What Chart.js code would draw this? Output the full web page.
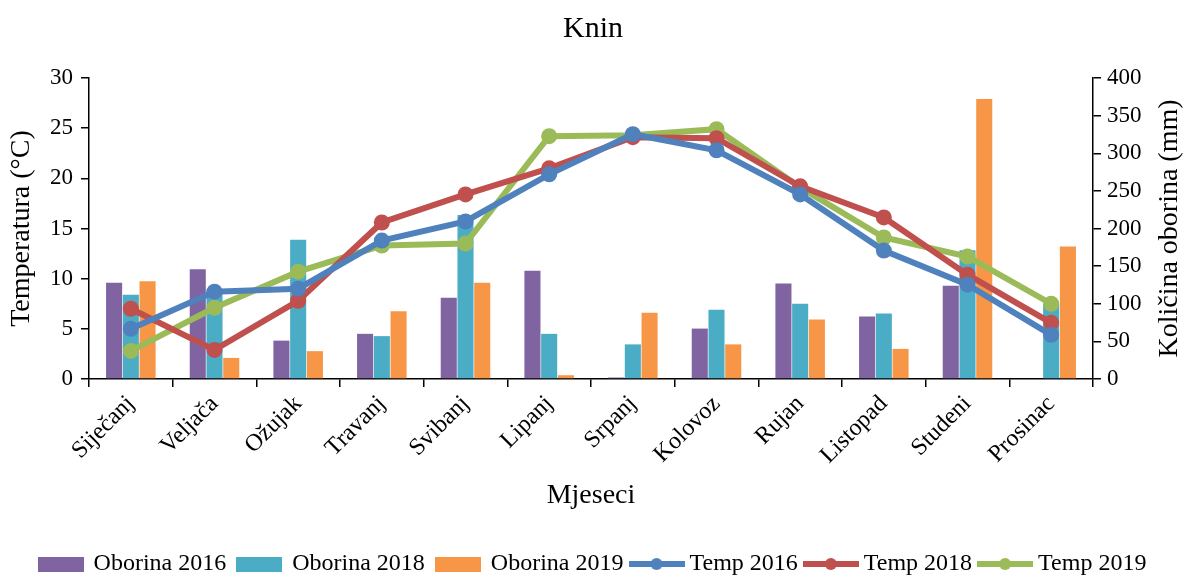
<!DOCTYPE html>
<html>
<head>
<meta charset="utf-8">
<script src="https://cdn.jsdelivr.net/npm/chart.js@4.4.1/dist/chart.umd.min.js"></script>
<style>
  html, body { margin: 0; padding: 0; background: #fff; }
  #wrap { width: 1186px; height: 578px; position: relative; }
</style>
</head>
<body>
<div id="wrap"><canvas id="chart"></canvas></div>
<script>
// Monthly data for Knin
const months = ['Siječanj', 'Veljača', 'Ožujak', 'Travanj', 'Svibanj', 'Lipanj',
  'Srpanj', 'Kolovoz', 'Rujan', 'Listopad', 'Studeni', 'Prosinac'];

const rain2016 = [128, 146, 51, 60, 108, 144, 2, 67, 127, 83, 124, 0];
const rain2018 = [112, 119, 185, 57, 218, 60, 46, 92, 100, 87, 171, 100];
const rain2019 = [130, 28, 37, 90, 128, 5, 88, 46, 79, 40, 372, 176];

const temp2016 = [5.0, 8.7, 9.0, 13.8, 15.7, 20.4, 24.4, 22.8, 18.4, 12.8, 9.4, 4.4];
const temp2018 = [7.0, 2.9, 7.8, 15.6, 18.4, 21.0, 24.1, 24.0, 19.2, 16.1, 10.4, 5.6];
const temp2019 = [2.8, 7.1, 10.7, 13.3, 13.5, 24.2, 24.3, 24.9, 19.1, 14.1, 12.2, 7.5];

const FONT = "'Liberation Serif', 'Times New Roman', serif";

// Legend icons drawn on small canvases
function barIcon(color) {
  const c = document.createElement('canvas');
  c.width = 46; c.height = 15;
  const g = c.getContext('2d');
  g.fillStyle = color;
  g.fillRect(0, 0, 46, 15);
  return c;
}

function lineIcon(color) {
  const c = document.createElement('canvas');
  c.width = 56; c.height = 16;
  const g = c.getContext('2d');
  g.strokeStyle = color;
  g.lineWidth = 6;
  g.beginPath();
  g.moveTo(0, 8);
  g.lineTo(56, 8);
  g.stroke();
  g.fillStyle = color;
  g.beginPath();
  g.arc(28, 8, 6, 0, Math.PI * 2);
  g.fill();
  return c;
}

function barSet(label, data, color) {
  return {
    type: 'bar',
    label: label,
    data: data,
    backgroundColor: color,
    borderWidth: 0,
    yAxisID: 'y1',
    order: 2,
    categoryPercentage: 0.6,
    barPercentage: 0.96,
    icon: barIcon(color),
  };
}

function lineSet(label, data, color) {
  return {
    type: 'line',
    label: label,
    data: data,
    borderColor: color,
    backgroundColor: color,
    borderWidth: 6,
    pointRadius: 8,
    pointBackgroundColor: color,
    pointBorderColor: color,
    pointBorderWidth: 0,
    tension: 0,
    yAxisID: 'y',
    order: 1,
    icon: lineIcon(color),
  };
}

// Right axis title reads bottom-to-top, so it is drawn here
const rightTitle = {
  id: 'rightTitle',
  afterDraw(chart) {
    const { ctx, chartArea } = chart;
    ctx.save();
    ctx.translate(1170, (chartArea.top + chartArea.bottom) / 2);
    ctx.rotate(-Math.PI / 2);
    ctx.font = `28px ${FONT}`;
    ctx.fillStyle = '#000';
    ctx.textAlign = 'center';
    ctx.textBaseline = 'middle';
    ctx.fillText('Količina oborina (mm)', 0, 0);
    ctx.restore();
  },
};

const tickFont = { family: FONT, size: 23 };
const axisLine = { display: true, drawOnChartArea: false, drawTicks: true, tickLength: 8, color: '#000', lineWidth: 1.5 };

new Chart(document.getElementById('chart'), {
  data: {
    labels: months,
    datasets: [
      barSet('Oborina 2016', rain2016, '#8064A2'),
      barSet('Oborina 2018', rain2018, '#4BACC6'),
      barSet('Oborina 2019', rain2019, '#F79646'),
      lineSet('Temp 2016', temp2016, '#4F81BD'),
      lineSet('Temp 2018', temp2018, '#C0504D'),
      lineSet('Temp 2019', temp2019, '#9BBB59'),
    ],
  },
  options: {
    responsive: true,
    maintainAspectRatio: false,
    animation: false,
    layout: { padding: { left: 0, right: 0, top: 0, bottom: -8 } },
    plugins: {
      title: {
        display: true,
        text: 'Knin',
        color: '#000',
        font: { family: FONT, size: 30, weight: 'normal' },
        padding: { top: 11, bottom: 31 },
      },
      legend: {
        position: 'bottom',
        labels: {
          color: '#000',
          font: { family: FONT, size: 24 },
          usePointStyle: true,
          pointStyleWidth: 42,
          padding: 12,
          generateLabels(chart) {
            return chart.data.datasets.map((ds, i) => ({
              text: ds.label,
              datasetIndex: i,
              pointStyle: ds.icon,
              fontColor: '#000',
              hidden: !chart.isDatasetVisible(i),
              lineWidth: 0,
              strokeStyle: 'rgba(0,0,0,0)',
              fillStyle: 'rgba(0,0,0,0)',
            }));
          },
        },
      },
      tooltip: { enabled: false },
    },
    scales: {
      x: {
        grid: axisLine,
        border: { display: true, color: '#000', width: 1.5 },
        ticks: { color: '#000', font: { family: FONT, size: 24 }, minRotation: 45, maxRotation: 45, padding: 3 },
        title: { display: true, text: 'Mjeseci', color: '#000', font: { family: FONT, size: 28 }, padding: { top: 2, bottom: 28 } },
        afterFit(scale) { scale.height = 161; },
      },
      y: {
        position: 'left',
        min: 0,
        max: 30,
        grid: axisLine,
        border: { display: true, color: '#000', width: 1.5 },
        ticks: { color: '#000', font: tickFont, stepSize: 5, padding: 8 },
        title: { display: true, text: 'Temperatura (°C)', color: '#000', font: { family: FONT, size: 28 }, padding: { top: 5, bottom: 0 } },
        afterFit(scale) { scale.width = 89; },
      },
      y1: {
        position: 'right',
        min: 0,
        max: 400,
        grid: axisLine,
        border: { display: true, color: '#000', width: 1.5 },
        ticks: { color: '#000', font: tickFont, stepSize: 50, padding: 6 },
        afterFit(scale) { scale.width = 93; },
      },
    },
  },
  plugins: [rightTitle],
});
</script>
</body>
</html>
